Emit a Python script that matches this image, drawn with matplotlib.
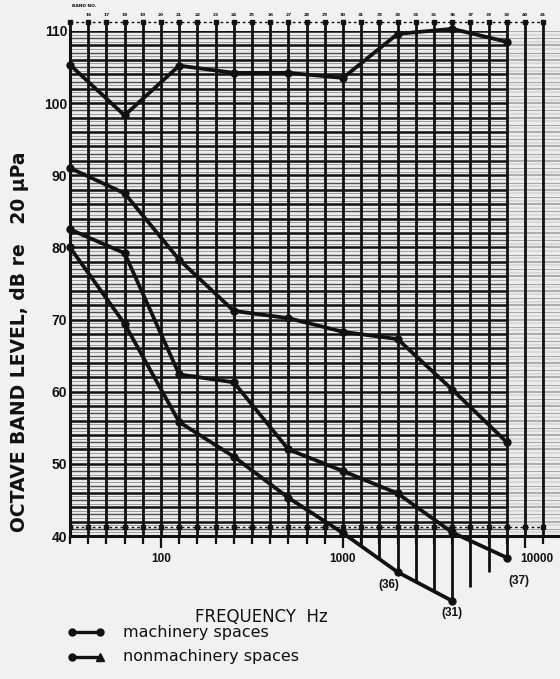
import numpy as np
import matplotlib
matplotlib.use("Agg")
import matplotlib.pyplot as plt
from matplotlib.lines import Line2D
from matplotlib.transforms import ScaledTranslation

# octave band levels (band 15 = 31.5 Hz ... band 39 = 8 kHz)
band_no = [15, 18, 21, 24, 27, 30, 33, 36, 39]
mach_upper = [105.3, 98.3, 105.2, 104.2, 104.2, 103.5, 109.6, 110.3, 108.5]
mach_lower = [91.0, 87.5, 78.3, 71.2, 70.2, 68.3, 67.3, 60.3, 53.0]
nonmach_upper = [82.5, 79.2, 62.4, 61.3, 52.0, 49.0, 45.9, 40.5, 37.0]
nonmach_lower = [80.0, 69.4, 55.8, 51.0, 45.3, 40.4, 35.0, 31.0, np.nan]
low_notes = {33: "(36)", 36: "(31)", 39: "(37)"}

grid_bands = list(range(15, 42))
freq_ticks = [100, 1000, 10000]
freq_labels = ["100", "1000", "10000"]
db_ticks = [40, 50, 60, 70, 80, 90, 100, 110]

ink = "#111111"
paper = "#f1f1f1"

fig = plt.figure(figsize=(5.6, 6.79), dpi=100, facecolor=paper)
ax = fig.add_axes([70/560, 1 - 536/679, 490/560, 505/679])
ax.set_facecolor("#ececec")
ax.set_xscale("log")
xmax = 10 ** (1.5 + 490/182)
ax.set_xlim(10 ** 1.5, xmax)
ax.set_ylim(40, 110)

band_hz = 10 ** (np.array(grid_bands) / 10)
x_end = 10 ** 3.9

# horizontal graph-paper rules
levels = np.arange(40, 110.01, 0.5)
lws = np.where(levels % 2 == 0, 1.8, np.where(levels % 1 == 0, 1.0, 0.55))
cols = np.where(levels % 2 == 0, ink, np.where(levels % 1 == 0, "#505050", "#888888"))
ax.hlines(levels, band_hz[0], x_end, colors=cols, linewidths=lws, zorder=1)
ax.hlines(levels, x_end, xmax, colors="#9a9a9a", linewidths=lws * 0.6, zorder=1)

# vertical third-octave rules, running up to the band number row
ax.vlines(band_hz, 40, 111.3, colors=ink, linewidths=2.0, zorder=1, clip_on=False)
ax.hlines(111.3, band_hz[0], band_hz[-1], colors=ink, linewidths=1.0,
          linestyles=(0, (2, 2)), clip_on=False)
ax.plot(band_hz, [111.3] * len(band_hz), "s", color=ink, ms=3.4, clip_on=False)
for b, f in zip(grid_bands[1:], band_hz[1:]):
    ax.text(f, 111.9, str(b), fontsize=3.2, ha="center", va="bottom",
            fontweight="bold", color=ink)
ax.text(band_hz[0] * 1.02, 113.2, "BAND NO.", fontsize=3.2, fontweight="bold",
        ha="left", va="bottom", color=ink)

# dashed row just above the baseline
ax.hlines(41.2, band_hz[0], band_hz[-1], colors=ink, linewidths=1.0,
          linestyles=(0, (2, 2)), zorder=2)
ax.plot(band_hz, [41.2] * len(band_hz), "s", color=ink, ms=3.2, zorder=2)

# small tick marks under the baseline
tick_len = np.where(np.isin(grid_bands, [20, 30, 40]), 1.7, 1.1)
ax.vlines(band_hz, 40 - tick_len, 40, colors=ink, linewidths=1.6, clip_on=False, zorder=5)

# hatching of the lowest curves below the baseline
env = np.nanmin(np.vstack([mach_lower, nonmach_upper, nonmach_lower]), axis=0)
x_oct = 10 ** (np.array(band_no) / 10)
lo = np.interp(grid_bands, band_no, env)
sel = (lo < 40) & (np.array(grid_bands) <= 39)
ax.vlines(band_hz[sel], lo[sel], 40, colors=ink, linewidths=2.0, clip_on=False)

# the curves
kw = dict(color=ink, lw=2.7, ms=5, clip_on=False, zorder=4)
ax.plot(x_oct, mach_upper, marker="o", **kw)
ax.plot(x_oct, mach_lower, marker="o", **kw)
ax.plot(x_oct, nonmach_upper, marker="o", **kw)
ax.plot(x_oct, nonmach_lower, marker="o", **kw)

offs = {33: (-6, -9.5), 36: (0, -9), 39: (9, -16.5)}
for b, txt in low_notes.items():
    i = band_no.index(b)
    v = nonmach_lower[i] if not np.isnan(nonmach_lower[i]) else nonmach_upper[i]
    ax.annotate(txt, (x_oct[i], v), xytext=offs[b], textcoords="offset points",
                ha="center", va="center", fontsize=8.5, fontweight="bold",
                family="Liberation Sans", color=ink, annotation_clip=False)

# axes, ticks and labels
for s in ["top", "right"]:
    ax.spines[s].set_visible(False)
for s in ["left", "bottom"]:
    ax.spines[s].set_linewidth(2.2)
    ax.spines[s].set_color(ink)

ax.set_yticks(db_ticks)
ax.set_yticklabels([str(v) for v in db_ticks], fontsize=10, fontweight="bold",
                   family="Liberation Sans")
ax.tick_params(axis="y", length=0, pad=2, colors=ink)
ax.set_xticks(freq_ticks)
ax.set_xticklabels(freq_labels, fontsize=8.5, fontweight="bold", family="Liberation Sans")
ax.xaxis.set_minor_locator(plt.NullLocator())
ax.tick_params(axis="x", which="major", length=0, pad=12, colors=ink)
lbl = ax.get_xticklabels()[-1]
lbl.set_transform(lbl.get_transform() + ScaledTranslation(0.12, 0, fig.dpi_scale_trans))

ax.set_ylabel("OCTAVE BAND LEVEL, dB re   20 \u03bcPa", fontsize=13.5, fontweight="bold",
              color=ink)
ax.yaxis.set_label_coords(-0.084, 0.384)
ax.set_xlabel("FREQUENCY  Hz", fontsize=12, color=ink)
ax.xaxis.set_label_coords(0.39, -0.142)

# legend drawn by hand like the original
y1 = 1 - 632/679
y2 = 1 - 657/679
fig.add_artist(Line2D([72/560, 100/560], [y1, y1], color=ink, lw=2.4, marker="o", ms=5))
fig.add_artist(Line2D([72/560, 100/560], [y2, y2], color=ink, lw=2.4, marker="o", ms=5,
                      markevery=[0]))
fig.add_artist(Line2D([100/560], [y2], color=ink, marker="^", ms=6))
fig.text(123/560, y1, "machinery spaces", fontsize=11.5, va="center", color=ink)
fig.text(123/560, y2, "nonmachinery spaces", fontsize=11.5, va="center", color=ink)

fig.savefig("out.png", dpi=100, facecolor=paper)
